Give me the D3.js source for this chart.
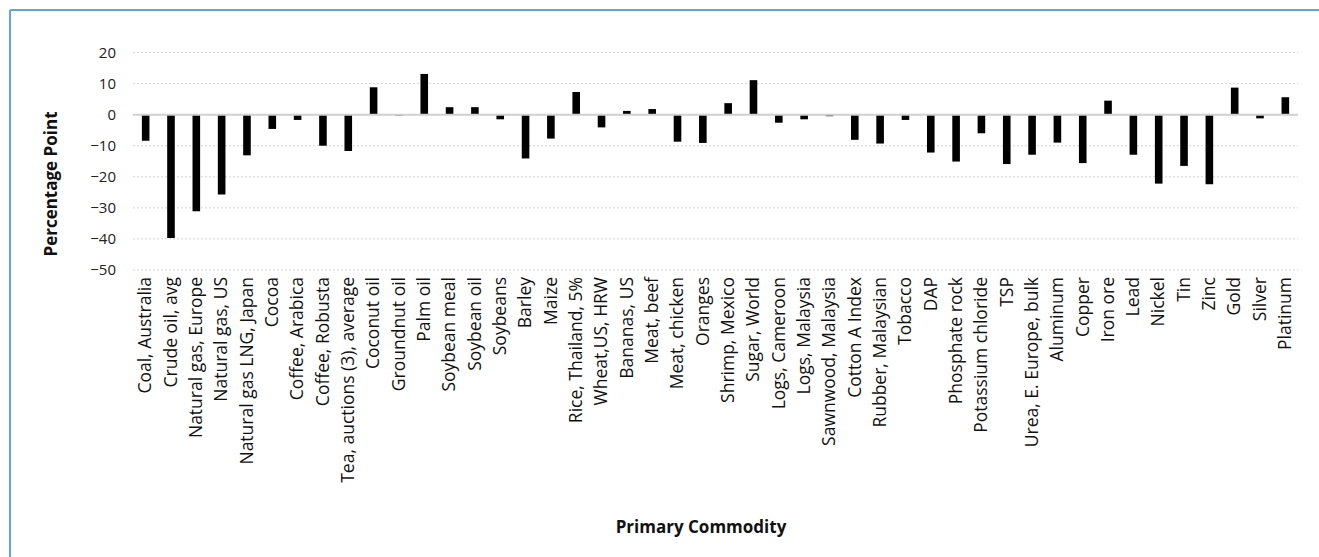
<!DOCTYPE html>
<html>
<head>
<meta charset="utf-8">
<script src="https://cdn.jsdelivr.net/npm/d3@7"></script>
<style>
  html, body { margin: 0; padding: 0; background: #fff; }
  svg { display: block; }
  text { font-family: "Open Sans", sans-serif; }
</style>
</head>
<body>
<svg id="chart" width="1319" height="557"></svg>
<script>
const categories = [
  "Coal, Australia", "Crude oil, avg", "Natural gas, Europe", "Natural gas, US",
  "Natural gas LNG, Japan", "Cocoa", "Coffee, Arabica", "Coffee, Robusta",
  "Tea, auctions (3), average", "Coconut oil", "Groundnut oil", "Palm oil",
  "Soybean meal", "Soybean oil", "Soybeans", "Barley", "Maize", "Rice, Thailand, 5%",
  "Wheat,US, HRW", "Bananas, US", "Meat, beef", "Meat, chicken", "Oranges",
  "Shrimp, Mexico", "Sugar, World", "Logs, Cameroon", "Logs, Malaysia",
  "Sawnwood, Malaysia", "Cotton A Index", "Rubber, Malaysian", "Tobacco", "DAP",
  "Phosphate rock", "Potassium chloride", "TSP", "Urea, E. Europe, bulk",
  "Aluminum", "Copper", "Iron ore", "Lead", "Nickel", "Tin", "Zinc", "Gold",
  "Silver", "Platinum"
];
const values = [
  -8.4, -39.7, -31.1, -25.7,
  -13.1, -4.6, -1.7, -10.0,
  -11.7, 8.8, -0.3, 13.1,
  2.4, 2.4, -1.5, -14.1, -7.7, 7.3,
  -4.1, 1.2, 1.8, -8.7, -9.1,
  3.7, 11.1, -2.6, -1.5,
  -0.5, -8.1, -9.3, -1.7, -12.2,
  -15.1, -6.0, -15.9, -12.9,
  -9.0, -15.6, 4.5, -12.9, -22.2, -16.5, -22.4, 8.7,
  -1.2, 5.6
];
const yTicks = [-50, -40, -30, -20, -10, 0, 10, 20];
const yTitle = "Percentage Point";
const xTitle = "Primary Commodity";

const svg = d3.select("#chart");

// frame (top and left edges visible)
svg.append("line").attr("x1", 10).attr("x2", 1319).attr("y1", 10).attr("y2", 10)
  .attr("stroke", "#5BA8DE").attr("stroke-width", 2);
svg.append("line").attr("x1", 10).attr("x2", 10).attr("y1", 10).attr("y2", 557)
  .attr("stroke", "#5BA8DE").attr("stroke-width", 2);

const x = d3.scaleBand().domain(categories).range([133, 1298]).paddingInner(0.7).paddingOuter(0.35);
const y = d3.scaleLinear().domain([-50, 20]).range([270, 52.5]);

// gridlines
svg.append("g").selectAll("line").data(yTicks.filter(t => t !== 0)).join("line")
  .attr("x1", 133).attr("x2", 1298)
  .attr("y1", d => y(d)).attr("y2", d => y(d))
  .attr("stroke", "#d4d4d4").attr("stroke-width", 1).attr("stroke-dasharray", "2,2");

// y axis labels
const yAxis = svg.append("g").attr("transform", "translate(116,0)")
  .call(d3.axisLeft(y).tickValues(yTicks).tickSize(0).tickPadding(0).tickFormat(d3.format("d")));
yAxis.select(".domain").remove();
yAxis.selectAll("text").attr("font-size", 15).attr("fill", "#222")
  .style("font-family", "'Open Sans', sans-serif");

// bars
svg.append("g").selectAll("rect").data(values).join("rect")
  .attr("x", (d, i) => x(categories[i]))
  .attr("width", x.bandwidth())
  .attr("y", d => y(Math.max(0, d)))
  .attr("height", d => Math.abs(y(d) - y(0)))
  .attr("fill", "#000");

// zero line
svg.append("line").attr("x1", 133).attr("x2", 1298).attr("y1", y(0)).attr("y2", y(0))
  .attr("stroke", "#d0d0d0").attr("stroke-width", 2);

// x axis labels
const xAxis = svg.append("g").attr("transform", "translate(0,277)")
  .call(d3.axisBottom(x).tickSize(0).tickPadding(0));
xAxis.select(".domain").remove();
xAxis.selectAll("text")
  .attr("font-size", 17.5).attr("fill", "#111")
  .style("font-family", "'Open Sans', sans-serif")
  .attr("transform", "rotate(-90)")
  .attr("text-anchor", "end")
  .attr("x", 0).attr("y", 0).attr("dy", "0.33em");

// titles
svg.append("text").attr("transform", "translate(51,184) rotate(-90)")
  .attr("text-anchor", "middle").attr("dy", "0.35em")
  .attr("font-size", 17).attr("font-weight", "bold").attr("fill", "#111")
  .text(yTitle);
svg.append("text").attr("x", 701).attr("y", 533)
  .attr("text-anchor", "middle")
  .attr("font-size", 17).attr("font-weight", "bold").attr("fill", "#111")
  .text(xTitle);
</script>
</body>
</html>
